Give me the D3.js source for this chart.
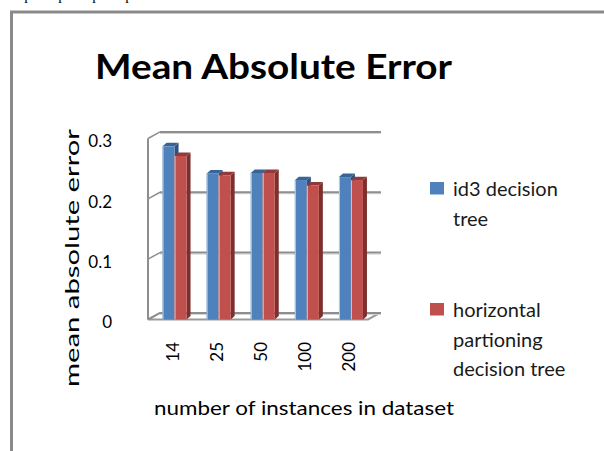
<!DOCTYPE html>
<html>
<head>
<meta charset="utf-8">
<script src="https://cdn.jsdelivr.net/npm/d3@7"></script>
<style>
  body { margin: 0; background: #fff; }
  svg { display: block; font-family: Lato, "Open Sans", sans-serif; }
</style>
</head>
<body>
<div id="chart"></div>
<script>
// values
const categories = ["14", "25", "50", "100", "200"];
const id3Values = [0.287, 0.242, 0.243, 0.231, 0.236];
const hpValues = [0.271, 0.239, 0.243, 0.222, 0.231];
const yTicks = [0, 0.1, 0.2, 0.3];
const seriesNames = ["id3", "hp"];
const legendLines = [["id3 decision", "tree"], ["horizontal", "partioning", "decision tree"]];

var width = 604
var height = 451

var svg = d3.select("#chart").append("svg")
  .attr("width", width)
  .attr("height", height)

// frame of the pasted picture
svg.append("path")
  .attr("d", "M11.5,451 V12 H604")
  .attr("fill", "none")
  .attr("stroke", "#8a8a8a")
  .attr("stroke-width", 3)

// bits of the text line above, cut off
svg.selectAll(".cut").data([28, 62, 96, 129]).enter().append("text")
  .attr("x", d => d).attr("y", 0)
  .attr("text-anchor", "middle")
  .style("font-family", "'Liberation Serif', serif")
  .style("font-size", "15px")
  .text("p")

// scales: front plane and back wall
var yFront = d3.scaleLinear().domain([0, 0.3]).range([319.5, 138.5]);
var depthX = 12, depthY = -6.6;
var yBack = v => yFront(v) + depthY;
var x0 = d3.scaleBand().domain(categories).range([152.5, 373]);
var x1 = d3.scaleBand().domain(seriesNames).range([-12, 12]);
var leftX = 148, rightX = 368;

var grid = svg.append("g").attr("fill", "none")

// floor
var floorPts = [[leftX, yFront(0)], [rightX, yFront(0)], [rightX + depthX, yBack(0)], [leftX + depthX, yBack(0)]];
grid.append("path")
  .attr("d", "M" + floorPts.map(p => p.join(",")).join("L") + "Z")
  .attr("stroke", "#999").attr("stroke-width", 2).attr("fill", "#fff")

// back wall gridlines, with soft shadow
yTicks.forEach(function(t) {
  grid.append("line")
    .attr("x1", leftX + depthX).attr("x2", rightX + depthX + 1)
    .attr("y1", yBack(t) + 1.5).attr("y2", yBack(t) + 1.5)
    .attr("stroke", "#d0d0d0").attr("stroke-width", 1)
  grid.append("line")
    .attr("x1", leftX + depthX).attr("x2", rightX + depthX + 1)
    .attr("y1", yBack(t)).attr("y2", yBack(t))
    .attr("stroke", "#8e8e8e").attr("stroke-width", 2)
  // side wall tick
  grid.append("line")
    .attr("x1", leftX).attr("x2", leftX + depthX)
    .attr("y1", yFront(t)).attr("y2", yBack(t))
    .attr("stroke", "#8e8e8e").attr("stroke-width", 1.5)
});

// left wall edge
grid.append("line")
  .attr("x1", leftX).attr("x2", leftX)
  .attr("y1", yFront(0)).attr("y2", yFront(0.3))
  .attr("stroke", "#8e8e8e").attr("stroke-width", 2)

// bars
var colors = {
  id3: { front: "#4f81bd", top: "#3a6396", side: "#2f5181", edge: "#b9cde5" },
  hp: { front: "#c0504d", top: "#93393a", side: "#7d2f2d", edge: "#e6b9b8" }
};
var barW = x1.bandwidth(), dx = 4, dy = -3.5;
var poly = pts => "M" + pts.map(p => p.join(",")).join("L") + "Z";

var bars = [];
categories.forEach(function(c, i) {
  bars.push({ cat: c, s: "id3", v: id3Values[i] });
  bars.push({ cat: c, s: "hp", v: hpValues[i] });
});

var barG = svg.selectAll(".bar").data(bars).enter().append("g")

barG.each(function(d) {
  var g = d3.select(this);
  var x = x0(d.cat) + x0.bandwidth() / 2 + x1(d.s);
  var y = yFront(d.v), y0 = yFront(0);
  var col = colors[d.s];
  g.append("path")
    .attr("d", poly([[x + barW, y], [x + barW + dx, y + dy], [x + barW + dx, y0 + dy], [x + barW, y0]]))
    .attr("fill", col.side)
  g.append("rect")
    .attr("x", x).attr("y", y)
    .attr("width", barW).attr("height", y0 - y)
    .attr("fill", col.front)
  g.append("rect")
    .attr("x", x).attr("y", y)
    .attr("width", 1).attr("height", y0 - y)
    .attr("fill", col.edge)
  g.append("path")
    .attr("d", poly([[x, y], [x + barW, y], [x + barW + dx, y + dy], [x + dx, y + dy]]))
    .attr("fill", col.top)
});

// y axis labels
var yAxis = svg.append("g")
  .attr("transform", "translate(112,3)")
  .call(d3.axisLeft(yFront).tickValues(yTicks).tickSize(0).tickPadding(0)
    .tickFormat(d => d === 0 ? "0" : d.toFixed(1)))
yAxis.select(".domain").remove()
yAxis.selectAll("text")
  .style("font-family", "Lato, sans-serif")
  .style("font-size", "17px")
  .attr("fill", "#000")

// x axis labels, rotated
var xAxis = svg.append("g")
  .attr("transform", "translate(-2,342)")
  .call(d3.axisBottom(x0).tickSize(0))
xAxis.select(".domain").remove()
xAxis.selectAll("text")
  .attr("x", 0).attr("y", 0).attr("dy", "0.35em")
  .attr("transform", "rotate(-90)")
  .attr("text-anchor", "end")
  .style("font-family", "Lato, sans-serif")
  .style("font-size", "17px")
  .attr("fill", "#000")

// titles
svg.append("text")
  .attr("x", 273.5).attr("y", 79)
  .attr("text-anchor", "middle")
  .attr("textLength", 357).attr("lengthAdjust", "spacingAndGlyphs")
  .style("font-size", "35px").style("font-weight", "bold")
  .text("Mean Absolute Error")

svg.append("text")
  .attr("transform", "translate(79,258) rotate(-90)")
  .attr("text-anchor", "middle")
  .attr("textLength", 258).attr("lengthAdjust", "spacingAndGlyphs")
  .style("font-size", "20px")
  .text("mean absolute error")

svg.append("text")
  .attr("x", 304).attr("y", 415)
  .attr("text-anchor", "middle")
  .attr("textLength", 300).attr("lengthAdjust", "spacingAndGlyphs")
  .style("font-size", "20px")
  .text("number of instances in dataset")

// legend
var legendTop = [182, 303];
var legend = svg.selectAll(".legend").data(seriesNames).enter().append("g")
legend.append("rect")
  .attr("x", 430).attr("y", (d, i) => legendTop[i])
  .attr("width", 14).attr("height", 12.5)
  .attr("fill", d => colors[d].front)
legend.each(function(d, i) {
  d3.select(this).selectAll("text").data(legendLines[i]).enter().append("text")
    .attr("x", 453)
    .attr("y", (t, j) => legendTop[i] + 14 + j * 29.5)
    .style("font-size", "20px")
    .attr("fill", "#1a1a1a")
    .text(t => t)
});
</script>
</body>
</html>
